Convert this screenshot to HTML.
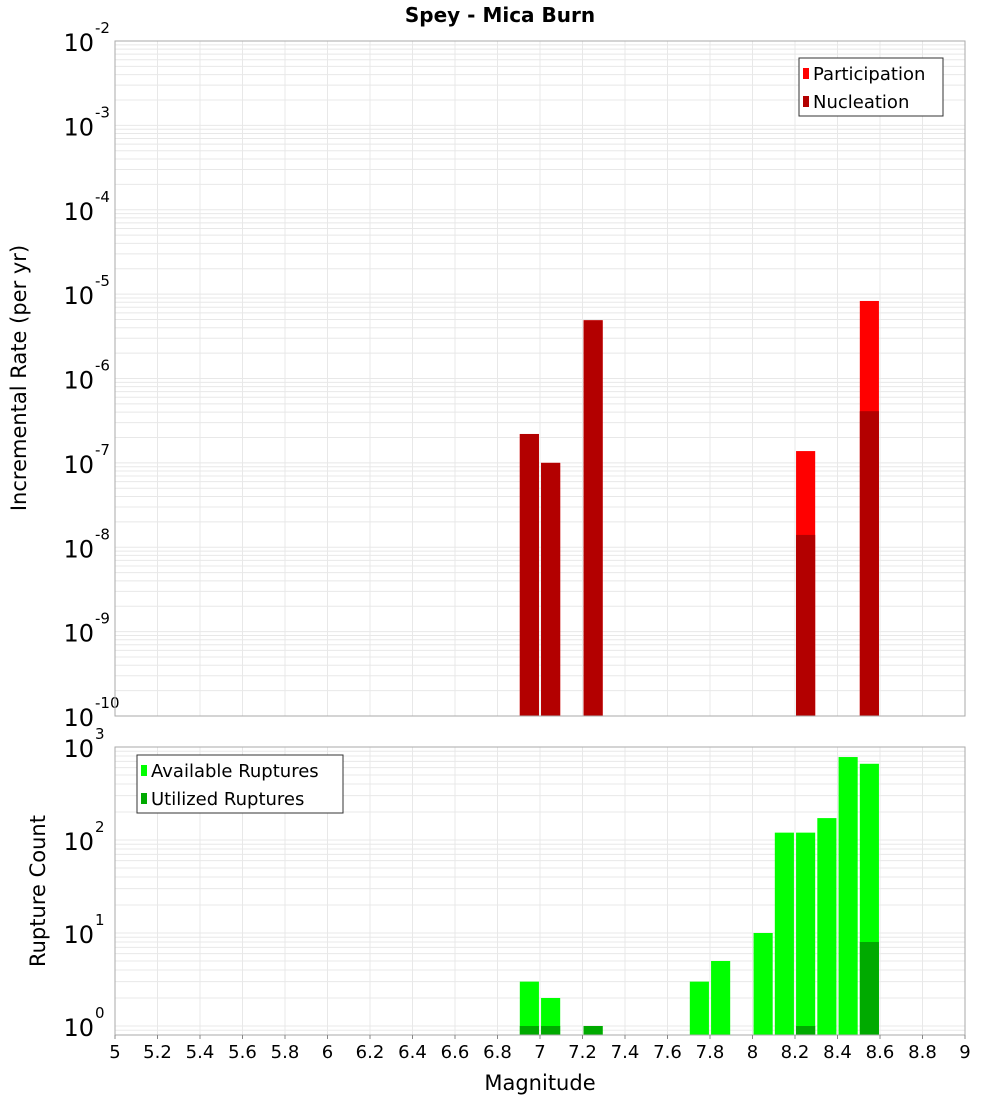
<!DOCTYPE html>
<html><head><meta charset="utf-8"><style>
body{margin:0;background:#fff;}
svg{display:block;font-family:"DejaVu Sans","Liberation Sans",sans-serif;}
</style></head><body>
<svg id="chart" width="1000" height="1100">
<text x="500" y="22" text-anchor="middle" font-size="20" font-weight="bold">Spey - Mica Burn</text>
<g id="top"></g>
<g id="bot"></g>
<text transform="translate(26,378) rotate(-90)" text-anchor="middle" font-size="21">Incremental Rate (per yr)</text>
<text transform="translate(45,891) rotate(-90)" text-anchor="middle" font-size="21">Rupture Count</text>
<text x="540" y="1090" text-anchor="middle" font-size="21">Magnitude</text>
</svg>
<script>
const mags = [6.95, 7.05, 7.25, 7.75, 7.85, 8.05, 8.15, 8.25, 8.35, 8.45, 8.55];
const participation = [2.2e-7, 1.0e-7, 4.9e-6, 0, 0, 0, 0, 1.38e-7, 0, 0, 8.3e-6];
const nucleation = [2.2e-7, 1.0e-7, 4.9e-6, 0, 0, 0, 0, 1.4e-8, 0, 0, 4.1e-7];
const available = [3, 2, 1, 3, 5, 10, 120, 120, 172, 780, 660];
const utilized = [1, 1, 1, 0, 0, 0, 0, 1, 0, 0, 8];
const xTicks = ["5","5.2","5.4","5.6","5.8","6","6.2","6.4","6.6","6.8","7","7.2","7.4","7.6","7.8","8","8.2","8.4","8.6","8.8","9"];
const topExps = [-2,-3,-4,-5,-6,-7,-8,-9,-10];
const botExps = [3,2,1,0];

const NS = "http://www.w3.org/2000/svg";
const X0 = 115, X1 = 965;
const xs = m => X0 + (m - 5) / 4 * (X1 - X0);
function mk(parent, tag, attrs){const e=document.createElementNS(NS,tag);for(const k in attrs)e.setAttribute(k,attrs[k]);parent.appendChild(e);return e;}

function panel(g, top, bottom, yFn, minExp, maxExp, exps, name){
  const x0=X0,x1=X1;
  // grid minor + major
  for(let e=minExp;e<maxExp;e++){
    for(let k=1;k<10;k++){
      const y=yFn(k*Math.pow(10,e));
      if(y<top-0.5||y>bottom+0.5)continue;
      const l=mk(g,'line',{x1:x0,x2:x1,y1:y,y2:y,stroke:'#e8e8e8','stroke-width':1});
      
      
    }
  }
  xTicks.forEach(t=>{
    const x=xs(+t);
    const l=mk(g,'line',{x1:x,x2:x,y1:top,y2:bottom,stroke:'#e8e8e8','stroke-width':1});
    
    
  });
  exps.forEach(e=>{
    const y=yFn(Math.pow(10,e));
    const t=mk(g,'text',{x:94,y:y+10,'text-anchor':'end','font-size':24});
    t.textContent='10';
    
    
    const s=mk(g,'text',{x:95,y:y-8,'font-size':15});
    s.textContent=String(e);
    
    
  });
}
function frame(g,top,bottom,name){
  const r=mk(g,'rect',{x:X0,y:top,width:X1-X0,height:bottom-top,fill:'none',stroke:'#aaa','stroke-width':1});
  
  
}
function bar(g,m,y,bottom,color,name){
  const x=xs(m-0.045), w=xs(m+0.045)-x;
  const r=mk(g,'rect',{x:x,y:y,width:w,height:bottom-y,fill:color});
  
  
}

// TOP
const gt=document.getElementById('top');
const T0=41, T1=716;
const yT=v=>T0+(-2-Math.log10(v))/8*(T1-T0);
panel(gt,T0,T1,yT,-10,-2,topExps,'rate');
mags.forEach((m,i)=>{
  if(participation[i]>0) bar(gt,m,yT(participation[i]),T1,'#ff0000','participation-bar');
  if(nucleation[i]>0) bar(gt,m,yT(nucleation[i]),T1,'#b30000','nucleation-bar');
});
frame(gt,T0,T1,'rate');

// BOTTOM
const gb=document.getElementById('bot');
const B0=747, B1=1035, DEC=93;
const yB=v=>1026-Math.log10(v)*DEC;
panel(gb,B0,B1,yB,-1,3,botExps,'count');
mags.forEach((m,i)=>{
  if(available[i]>0) bar(gb,m,Math.min(yB(available[i]),1026),B1,'#00ff00','available-bar');
  if(utilized[i]>0) bar(gb,m,Math.min(yB(utilized[i]),1026),B1,'#00aa00','utilized-bar');
});
frame(gb,B0,B1,'count');
xTicks.forEach(t=>{
  const x=xs(+t);
  const tk=mk(gb,'line',{x1:x,x2:x,y1:B1,y2:B1+4,stroke:'#888'});
  
  
  const tx=mk(gb,'text',{x:x,y:1058,'text-anchor':'middle','font-size':18});
  tx.textContent=t;
  
  
});

// legends
function legend(x,y,w,items,name){
  const g=mk(document.getElementById('chart'),'g',{});
  
  
  mk(g,'rect',{x:x,y:y,width:w,height:58,fill:'#fff',stroke:'#333','stroke-width':1});
  items.forEach((it,i)=>{
    const yy=y+15+i*28;
    const sw=mk(g,'rect',{x:x+4,y:yy-5,width:6,height:11,fill:it[1]});
    
    
    const t=mk(g,'text',{x:x+14,y:yy+7,'font-size':18});
    t.textContent=it[0];
    
    
  });
}
legend(799,58,144,[['Participation','#ff0000'],['Nucleation','#b30000']],'rate-legend');
legend(137,755,206,[['Available Ruptures','#00ff00'],['Utilized Ruptures','#00aa00']],'count-legend');
</script>
</body></html>
